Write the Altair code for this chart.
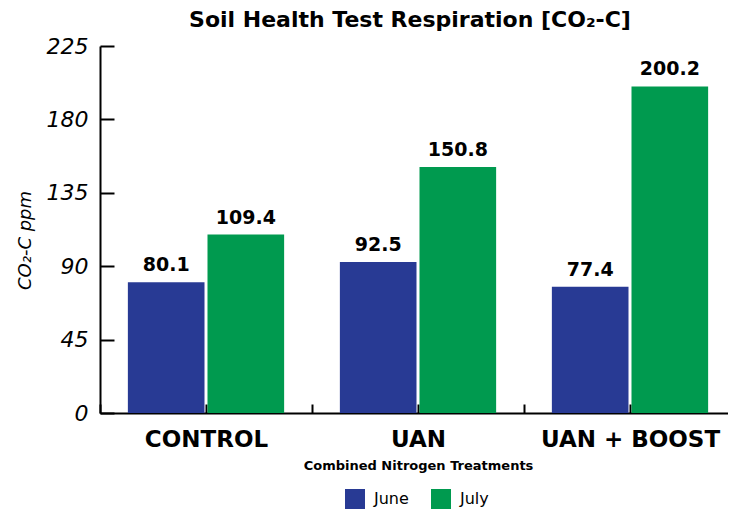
import altair as alt
import pandas as pd

treatments = ["CONTROL", "UAN", "UAN + BOOST"]
months = ["June", "July"]
june = [80.1, 92.5, 77.4]
july = [109.4, 150.8, 200.2]
colors = ["#283a94", "#009a4f"]

rows = []
for t, j1, j2 in zip(treatments, june, july):
    rows.append({"Treatment": t, "Month": "June", "Value": j1, "Label": f"{j1:.1f}"})
    rows.append({"Treatment": t, "Month": "July", "Value": j2, "Label": f"{j2:.1f}"})
df = pd.DataFrame(rows)

FONT = "DejaVu Sans"
W, H = 636, 367

xscale = alt.Scale(paddingInner=0, paddingOuter=0)
yscale = alt.Scale(domain=[0, 225])
xoff = alt.XOffset("Month:N", sort=months, scale=alt.Scale(paddingInner=0.0375, paddingOuter=0.35))

bars = alt.Chart(df).mark_bar().encode(
    x=alt.X("Treatment:N", sort=treatments, scale=xscale,
            axis=alt.Axis(orient="bottom", title="Combined Nitrogen Treatments",
                          labelAngle=0, labelFont=FONT, labelFontSize=23, labelFontWeight="bold",
                          labelColor="black", labelPadding=24,
                          titleFont=FONT, titleFontSize=13, titleFontWeight="bold", titleColor="black",
                          titlePadding=8,
                          domainColor="black", domainWidth=2,
                          tickBand="extent", tickColor="black", tickWidth=2,
                          tickSize={"expr": "-9"})),
    xOffset=xoff,
    y=alt.Y("Value:Q", scale=yscale,
            axis=alt.Axis(title="CO₂-C ppm", values=[0, 45, 90, 135, 180, 225],
                          labelFont=FONT, labelFontSize=22, labelFontStyle="italic",
                          labelColor="black", labelPadding=26,
                          titleFont=FONT, titleFontSize=18, titleFontStyle="italic",
                          titleFontWeight="normal", titleColor="black",
                          titleX=-66, titleY=194,
                          domainColor="black", domainWidth=2, grid=False,
                          tickColor="black", tickWidth=2, tickSize={"expr": "-14"})),
    color=alt.Color("Month:N", sort=months, scale=alt.Scale(domain=months, range=colors),
                    legend=alt.Legend(orient="none", legendX=245, legendY=443, direction="horizontal",
                                      title=None, symbolType="square", symbolSize=400,
                                      symbolStrokeWidth=0, labelFont=FONT, labelFontSize=16,
                                      labelColor="black", columnPadding=22, labelOffset=9)),
)

labels = alt.Chart(df).mark_text(
    baseline="bottom", dy=-7, font=FONT, fontSize=19, fontWeight="bold", color="black"
).encode(
    x=alt.X("Treatment:N", sort=treatments, scale=xscale,
            axis=alt.Axis(orient="bottom", title=None, labels=False, domain=False,
                          tickColor="black", tickWidth=2, tickSize={"expr": "-9"})),
    xOffset=xoff,
    y=alt.Y("Value:Q", scale=yscale),
    text="Label:N",
)

chart = alt.layer(bars, labels).resolve_axis(x="independent").properties(
    width=W, height=H,
    title=alt.TitleParams("Soil Health Test Respiration [CO₂-C]", font=FONT, fontSize=22,
                          fontWeight="bold", color="black", anchor="middle", offset=3, dx=-8),
    autosize=alt.AutoSizeParams(type="none"),
    padding={"left": 92, "top": 38, "right": -8, "bottom": 96},
).configure_view(stroke=None)

chart.save("out.html", embed_options={"renderer": "svg", "actions": False})
